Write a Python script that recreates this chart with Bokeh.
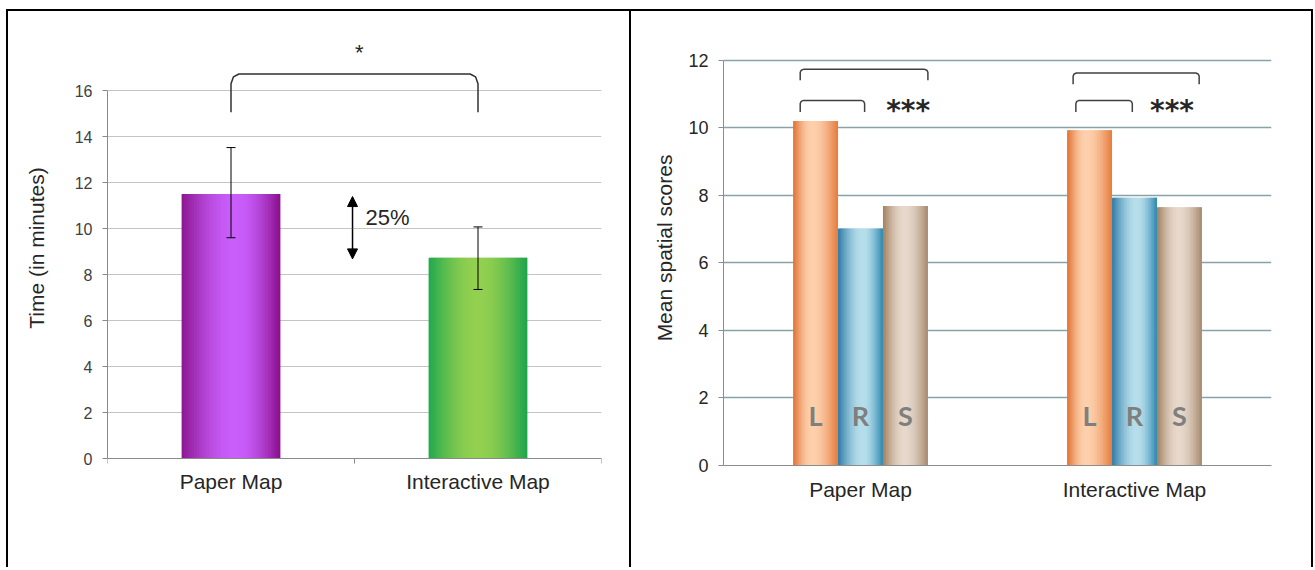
import numpy as np
from bokeh.plotting import figure
from bokeh.layouts import row
from bokeh.models import (ColumnDataSource, FactorRange, Range1d, FixedTicker,
                          Whisker, TeeHead, Arrow, NormalHead, Span)
from bokeh.core.properties import value
from bokeh.embed import file_html
from bokeh.resources import INLINE

# ---------------- data ----------------
categories = ["Paper Map", "Interactive Map"]

# left panel: completion time
time_mean = [11.5, 8.73]
time_err_low = [9.6, 7.35]
time_err_high = [13.52, 10.07]
time_ticks = [0, 2, 4, 6, 8, 10, 12, 14, 16]
time_axis_label = "Time (in minutes)"
diff_label = "25%"
sig_left = "*"

# right panel: mean spatial scores
series = ["L", "R", "S"]
score_L = [10.2, 9.93]
score_R = [7.02, 7.93]
score_S = [7.68, 7.65]
score_ticks = [0, 2, 4, 6, 8, 10, 12]
score_axis_label = "Mean spatial scores"
sig_right = "***"

# ---------------- styles ----------------
FONT = "Liberation Sans"
grad_purple = ("#8C1690", "#C95EFB", "#8A0E8C", 0.55)
grad_green = ("#20A84E", "#93D050", "#1BA44C", 0.5)
grad_orange = ("#E2702F", "#FDD0AC", "#E57B3C", 0.42)
grad_blue = ("#2C7AA6", "#B6DEEA", "#2B86B0", 0.55)
grad_tan = ("#A2805F", "#E6D8CB", "#A7896E", 0.48)


def center(cat):
    # synthetic coordinate of a factor on FactorRange(range_padding=0)
    return categories.index(cat) + 0.5


def hex2rgb(h):
    return np.array([int(h[i:i + 2], 16) for i in (1, 3, 5)], float)


def gradient(left, peak, right, p, n):
    out = []
    for t in (np.arange(n) + 0.5) / n:
        if t < p:
            a = np.sin(np.pi / 2 * t / p)
            c = hex2rgb(left) * (1 - a) + hex2rgb(peak) * a
        else:
            a = np.sin(np.pi / 2 * (1 - t) / (1 - p))
            c = hex2rgb(right) * (1 - a) + hex2rgb(peak) * a
        out.append("#%02x%02x%02x" % tuple(int(round(v)) for v in c))
    return out


def gradient_bars(p, cats, vals, offset, width, grad, n=40):
    cols = gradient(*grad, n)
    L, R, T, C = [], [], [], []
    for c, v in zip(cats, vals):
        x0 = center(c) + offset - width / 2
        w = width / n
        for k in range(n):
            L.append(x0 + k * w)
            R.append(min(x0 + (k + 1.8) * w, x0 + width))
            T.append(v)
            C.append(cols[k])
    src = ColumnDataSource(dict(left=L, right=R, top=T, color=C))
    p.quad(left="left", right="right", top="top", bottom=0, source=src,
           fill_color="color", line_color=None)


def bracket(x0, x1, ytop, yleg, dx, dy):
    xs = [x0, x0, x0 + dx * 0.3, x0 + dx, x1 - dx, x1 - dx * 0.3, x1, x1]
    ys = [yleg, ytop - dy, ytop - dy * 0.3, ytop, ytop, ytop - dy * 0.3, ytop - dy, yleg]
    return xs, ys


def style_axes(p, tick_size, tick_color, axis_color):
    for ax in (p.xaxis[0], p.yaxis[0]):
        ax.axis_line_color = axis_color
        ax.major_tick_line_color = axis_color
        ax.minor_tick_line_color = None
        ax.major_label_text_font = FONT
        ax.axis_label_text_font = FONT
        ax.axis_label_text_font_style = "normal"
        ax.axis_label_text_font_size = "21px"
        ax.axis_label_text_color = "#262626"
    p.yaxis.major_label_text_font_size = tick_size
    p.yaxis.major_label_text_color = tick_color
    p.yaxis.major_tick_out = 5
    p.yaxis.major_tick_in = 0
    p.yaxis.major_label_standoff = 10
    p.xaxis.major_tick_line_color = None
    p.xaxis.major_label_text_font_size = "21px"
    p.xaxis.major_label_text_color = "#262626"
    p.xgrid.grid_line_color = None
    p.outline_line_color = None


H = 558
BT, BB = 19, 104
BORDER = "2px solid black"
AXIS1 = "#8A8A8A"

# ---------------- left panel ----------------
p1 = figure(width=625, height=H, x_range=FactorRange(*categories),
            y_range=Range1d(-0.304, 18.61), output_backend="svg", toolbar_location=None,
            min_border_left=99, min_border_right=32, min_border_top=BT, min_border_bottom=BB,
            margin=(9, 0, 0, 6),
            styles={"border-top": BORDER, "border-left": BORDER, "border-right": BORDER})
style_axes(p1, "16px", "#404040", AXIS1)
p1.yaxis.ticker = FixedTicker(ticks=time_ticks)
p1.ygrid.ticker = FixedTicker(ticks=time_ticks)
p1.yaxis.bounds = (0, 16)
p1.ygrid.grid_line_color = "#C4C4C4"
p1.yaxis.axis_label = time_axis_label
p1.yaxis.axis_label_standoff = 24
p1.xaxis.axis_line_color = None
p1.xaxis.major_label_standoff = -2
# category axis line at zero with boundary tick marks
p1.add_layout(Span(location=0, dimension="width", line_color=AXIS1, line_width=1))
bounds_x = list(range(len(categories) + 1))
p1.segment(x0=bounds_x, y0=[0] * len(bounds_x), x1=bounds_x, y1=[-0.22] * len(bounds_x),
           line_color=AXIS1, line_width=1)

gradient_bars(p1, categories[:1], time_mean[:1], 0.0, 0.40, grad_purple)
gradient_bars(p1, categories[1:], time_mean[1:], 0.0, 0.40, grad_green)

err_src = ColumnDataSource(dict(x=categories, lower=time_err_low, upper=time_err_high))
p1.add_layout(Whisker(base="x", lower="lower", upper="upper", source=err_src, level="overlay",
                      line_color="black", line_width=1,
                      upper_head=TeeHead(size=9, line_color="black", line_width=1),
                      lower_head=TeeHead(size=9, line_color="black", line_width=1)))

bx, by = bracket(center(categories[0]), center(categories[1]), 16.72, 15.06, 0.032, 0.43)
p1.line(bx, by, line_color="#303030", line_width=1.5)
p1.text(x=[1.019], y=[17.65], text=[sig_left], text_font=value(FONT), text_font_size="22px",
        text_align="center", text_baseline="middle", text_color="#262626")
p1.add_layout(Arrow(x_start=0.992, y_start=10.0, x_end=0.992, y_end=11.39,
                    line_color="black", line_width=1.5,
                    end=NormalHead(size=10, fill_color="black", line_color="black")))
p1.add_layout(Arrow(x_start=0.992, y_start=10.0, x_end=0.992, y_end=8.68,
                    line_color="black", line_width=1.5,
                    end=NormalHead(size=10, fill_color="black", line_color="black")))
p1.text(x=[1.045], y=[10.49], text=[diff_label], text_font=value(FONT), text_font_size="22px",
        text_align="left", text_baseline="middle", text_color="#262626")

# ---------------- right panel ----------------
p2 = figure(width=682, height=H, x_range=FactorRange(*categories),
            y_range=Range1d(0, 12.88), output_backend="svg", toolbar_location=None,
            min_border_left=92, min_border_right=42, min_border_top=BT, min_border_bottom=BB,
            margin=(9, 0, 0, 0),
            styles={"border-top": BORDER, "border-right": BORDER})
style_axes(p2, "18px", "#262626", "#8C8C8C")
p2.yaxis.ticker = FixedTicker(ticks=score_ticks)
p2.ygrid.ticker = FixedTicker(ticks=score_ticks)
p2.yaxis.bounds = (0, 12)
p2.ygrid.grid_line_color = "#88A2A8"
p2.ygrid.grid_line_width = 1.5
p2.yaxis.axis_label = score_axis_label
p2.yaxis.axis_label_standoff = 9
p2.xaxis.major_label_standoff = 6

BW = 0.164
offsets = [-BW, 0.0, BW]
for vals, off, g in zip([score_L, score_R, score_S], offsets, [grad_orange, grad_blue, grad_tan]):
    gradient_bars(p2, categories, vals, off, BW, g, n=30)

lx, ly, lt = [], [], []
for c in categories:
    for s, off in zip(series, offsets):
        lx.append(center(c) + off)
        ly.append(1.48)
        lt.append(s)
p2.text(x=lx, y=ly, text=lt, text_font=value("Lato"), text_font_style="bold",
        text_font_size="27px", text_align="center", text_baseline="middle", text_color="#7F7F7F")

brackets_right = [
    (categories[0], -0.220, 0.246, 11.73, 11.41),
    (categories[0], -0.220, 0.015, 10.81, 10.47),
    (categories[1], -0.224, 0.236, 11.62, 11.29),
    (categories[1], -0.214, -0.008, 10.81, 10.47),
]
mx, my = [], []
for c, o0, o1, yt, yl in brackets_right:
    xs, ys = bracket(center(c) + o0, center(c) + o1, yt, yl, 0.012, 0.09)
    mx.append(xs)
    my.append(ys)
p2.multi_line(mx, my, line_color="#404040", line_width=1.5)
p2.text(x=[center(categories[0]) + 0.174, center(categories[1]) + 0.137], y=[10.5, 10.5],
        text=[sig_right, sig_right], text_font=value("DejaVu Sans"), text_font_style="bold",
        text_font_size="28px", text_align="center", text_baseline="middle", text_color="#262626")

layout = row(p1, p2)
open("out.html", "w").write(file_html(layout, INLINE))
